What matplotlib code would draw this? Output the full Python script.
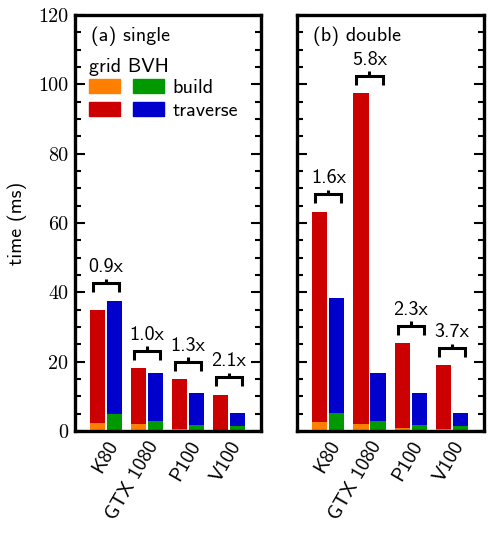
import numpy as np
import matplotlib
matplotlib.use("Agg")
import matplotlib.pyplot as plt
from matplotlib.patches import Patch
from matplotlib.ticker import MultipleLocator

gpus = ["K80", "GTX 1080", "P100", "V100"]
# single precision (ms)
s_grid_build = [2.3, 1.9, 0.5, 0.3]
s_grid_total = [34.9, 18.1, 15.0, 10.5]
s_bvh_build = [4.8, 2.9, 1.8, 1.5]
s_bvh_total = [37.6, 16.8, 11.0, 5.1]
s_speedup = ["0.9x", "1.0x", "1.3x", "2.1x"]
# double precision (ms)
d_grid_build = [2.7, 2.0, 1.0, 0.6]
d_grid_total = [63.3, 97.5, 25.4, 18.9]
d_bvh_build = [5.1, 2.9, 1.7, 1.4]
d_bvh_total = [38.4, 16.8, 11.0, 5.1]
d_speedup = ["1.6x", "5.8x", "2.3x", "3.7x"]

C_GB = "#ff8000"
C_GT = "#cc0000"
C_BB = "#009900"
C_BT = "#0000cc"

SANS = "cmss10"
SERIF = "cmr10"
FS = 14.5

fig = plt.figure(figsize=(4.9, 5.34), dpi=100)
ax1 = fig.add_axes([75/490, 1-431/534, 186/490, 416/534])
ax2 = fig.add_axes([297/490, 1-431/534, 187/490, 416/534], sharey=ax1)

W = 0.37
OFF = 0.205

def panel(ax, gb, gt, bb, bt, sp, title, legend):
    x = np.arange(len(gpus))
    gb = np.array(gb); gt = np.array(gt); bb = np.array(bb); bt = np.array(bt)
    kw = dict(width=W, linewidth=0)
    ax.bar(x - OFF, gb, color=C_GB, **kw)
    ax.bar(x - OFF, gt - gb, bottom=gb, color=C_GT, **kw)
    ax.bar(x + OFF, bb, color=C_BB, **kw)
    ax.bar(x + OFF, bt - bb, bottom=bb, color=C_BT, **kw)
    top = np.maximum(gt, bt)
    h = 0.32
    for xi, ti, s in zip(x, top, sp):
        ax.plot([xi - h, xi - h, xi + h, xi + h],
                [ti + 2.4, ti + 5.0, ti + 5.0, ti + 2.4],
                color="black", lw=2.2, solid_joinstyle="miter", solid_capstyle="butt")
        ax.plot([xi, xi], [ti + 5.0, ti + 6.3], color="black", lw=2.2,
                solid_capstyle="butt")
        ax.text(xi, ti + 8.2, s, ha="center", va="baseline",
                family=SANS, fontsize=FS)
    ax.set_xlim(-0.76, 3.78)
    ax.set_ylim(0, 120)
    ax.set_xticks(x)
    ax.set_xticklabels(gpus, rotation=60, ha="right", rotation_mode="anchor",
                       family=SANS, fontsize=FS)
    ax.tick_params(axis="x", length=0, pad=5)
    ax.yaxis.set_major_locator(MultipleLocator(20))
    ax.yaxis.set_minor_locator(MultipleLocator(5))
    ax.tick_params(axis="y", which="both", direction="in", left=True, right=True,
                   width=1.5)
    ax.tick_params(axis="y", which="major", length=7)
    ax.tick_params(axis="y", which="minor", length=4)
    for sp_ in ax.spines.values():
        sp_.set_linewidth(2.4)
    ax.text(0.086, 0.972, title, transform=ax.transAxes, ha="left", va="top",
            family=SANS, fontsize=FS)
    if legend:
        ax.text(0.075, 0.864, "grid BVH", transform=ax.transAxes,
                ha="left", va="baseline", family=SANS, fontsize=FS)
        handles = [Patch(color=C_GB), Patch(color=C_GT),
                   Patch(color=C_BB), Patch(color=C_BT)]
        ax.legend(handles, ["", "", "build", "traverse"], ncol=2,
                  loc="upper left", bbox_to_anchor=(0.032, 0.866),
                  frameon=False,
                  handlelength=1.54, handleheight=0.70,
                  handletextpad=0.4, columnspacing=0.25,
                  labelspacing=0.25, borderaxespad=0.0,
                  prop=dict(family=SANS, size=FS))

panel(ax1, s_grid_build, s_grid_total, s_bvh_build, s_bvh_total, s_speedup,
      "(a) single", True)
panel(ax2, d_grid_build, d_grid_total, d_bvh_build, d_bvh_total, d_speedup,
      "(b) double", False)

ax1.set_yticks([0, 20, 40, 60, 80, 100, 120])
ax1.set_yticklabels(["0", "20", "40", "60", "80", "100", "120"],
                    family=SERIF, fontsize=FS)
ax1.tick_params(axis="y", pad=5)
plt.setp(ax2.get_yticklabels(), visible=False)
ax1.set_ylabel("time (ms)", family=SANS, fontsize=FS, labelpad=8)

fig.savefig("out.png", dpi=100)
